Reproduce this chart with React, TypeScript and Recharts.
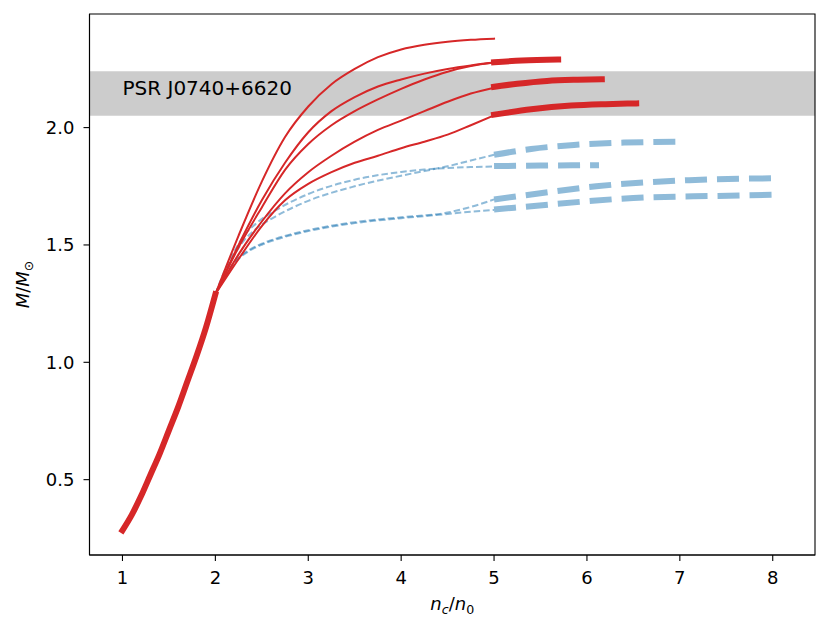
import {
  Label,
  Line,
  LineChart,
  ReferenceArea,
  ReferenceDot,
  XAxis,
  YAxis,
} from "recharts";

const RED = "#d62728";
const BLUE = "#1f77b4";
const FONT = "'DejaVu Sans', sans-serif";

const xTicks = [1, 2, 3, 4, 5, 6, 7, 8];
const yTicks = [0.5, 1.0, 1.5, 2.0];
const xDomain: [number, number] = [0.645, 8.455];
const yDomain: [number, number] = [0.179, 2.484];

// PSR J0740+6620 mass band
const band = [2.05, 2.24];
const pulsarText = "PSR J0740+6620";
const pulsarAt = [1.0, 2.14];

// common low density branch
const baseN = [1.0, 1.1, 1.2, 1.3, 1.4, 1.5, 1.6, 1.7, 1.8, 1.9, 2.0];
const baseM = [0.284, 0.35, 0.43, 0.52, 0.61, 0.71, 0.81, 0.92, 1.03, 1.15, 1.29];

// thin red branches, 2 -> 5 n0
const redN = [2.0, 2.25, 2.5, 2.75, 3.0, 3.25, 3.5, 3.75, 4.0, 4.25, 4.5, 4.75, 5.0];
const red1M = [1.29, 1.54, 1.77, 1.96, 2.09, 2.185, 2.25, 2.3, 2.333, 2.353, 2.366, 2.374, 2.379];
const red2M = [1.29, 1.5, 1.69, 1.85, 1.98, 2.07, 2.13, 2.175, 2.205, 2.23, 2.25, 2.265, 2.277];
const red3M = [1.29, 1.49, 1.66, 1.82, 1.93, 2.01, 2.07, 2.12, 2.165, 2.205, 2.238, 2.262, 2.277];
const red4M = [1.29, 1.46, 1.6, 1.72, 1.81, 1.88, 1.94, 1.99, 2.03, 2.07, 2.11, 2.145, 2.17];
const red5M = [1.29, 1.44, 1.58, 1.69, 1.76, 1.81, 1.85, 1.88, 1.912, 1.94, 1.97, 2.01, 2.052];

// thin blue dashed branches
const blueUpN = [2.0, 2.1, 2.2, 2.3, 2.45, 2.65, 3.0, 3.5, 4.0, 4.25, 4.5, 4.75, 5.0];
const blueAM = [1.29, 1.39, 1.47, 1.535, 1.595, 1.648, 1.717, 1.778, 1.811, 1.821, 1.828, 1.832, 1.834];
const blueBM = [1.29, 1.38, 1.455, 1.515, 1.572, 1.622, 1.688, 1.75, 1.795, 1.815, 1.835, 1.86, 1.884];
const blueLowN = [2.0, 2.1, 2.2, 2.37, 2.5, 2.66, 2.8, 3.0, 3.5, 4.0, 4.5, 4.75, 5.0];
const blueCM = [1.29, 1.365, 1.425, 1.48, 1.505, 1.528, 1.544, 1.563, 1.597, 1.618, 1.638, 1.662, 1.694];
const blueDM = [1.29, 1.36, 1.42, 1.476, 1.501, 1.524, 1.54, 1.559, 1.593, 1.614, 1.632, 1.642, 1.649];

// thick high density continuations
const thickR1N = [5.0, 5.3, 5.69];
const thickR1M = [2.278, 2.286, 2.29];
const thickR2N = [5.0, 5.25, 5.57, 5.9, 6.16];
const thickR2M = [2.174, 2.187, 2.199, 2.204, 2.206];
const thickR3N = [5.0, 5.4, 5.83, 6.2, 6.53];
const thickR3M = [2.055, 2.078, 2.094, 2.1, 2.103];
const thickBAN = [5.0, 5.4, 5.86, 6.4, 6.97];
const thickBAM = [1.884, 1.909, 1.926, 1.936, 1.94];
const thickBBN = [5.0, 5.5, 6.13];
const thickBBM = [1.836, 1.838, 1.84];
const thickBCN = [5.0, 5.4, 6.1, 7.1, 8.0];
const thickBCM = [1.694, 1.715, 1.75, 1.776, 1.784];
const thickBDN = [5.0, 5.4, 6.0, 6.5, 7.4, 8.05];
const thickBDM = [1.651, 1.665, 1.686, 1.7, 1.709, 1.714];

const zip = (n: number[], m: number[]) => n.map((v, i) => ({ n: v, m: m[i] }));

type Style = "thickRed" | "thinRed" | "thinBlue" | "thickBlue";
const curves: { id: string; n: number[]; m: number[]; style: Style }[] = [
  { id: "bA", n: blueUpN, m: blueAM, style: "thinBlue" },
  { id: "bB", n: blueUpN, m: blueBM, style: "thinBlue" },
  { id: "bC", n: blueLowN, m: blueCM, style: "thinBlue" },
  { id: "bD", n: blueLowN, m: blueDM, style: "thinBlue" },
  { id: "tBA", n: thickBAN, m: thickBAM, style: "thickBlue" },
  { id: "tBB", n: thickBBN, m: thickBBM, style: "thickBlue" },
  { id: "tBC", n: thickBCN, m: thickBCM, style: "thickBlue" },
  { id: "tBD", n: thickBDN, m: thickBDM, style: "thickBlue" },
  { id: "base", n: baseN, m: baseM, style: "thickRed" },
  { id: "r1", n: redN, m: red1M, style: "thinRed" },
  { id: "r2", n: redN, m: red2M, style: "thinRed" },
  { id: "r3", n: redN, m: red3M, style: "thinRed" },
  { id: "r4", n: redN, m: red4M, style: "thinRed" },
  { id: "r5", n: redN, m: red5M, style: "thinRed" },
  { id: "tR1", n: thickR1N, m: thickR1M, style: "thickRed" },
  { id: "tR2", n: thickR2N, m: thickR2M, style: "thickRed" },
  { id: "tR3", n: thickR3N, m: thickR3M, style: "thickRed" },
];

const styles: Record<Style, any> = {
  thickRed: { stroke: RED, strokeWidth: 6, strokeLinecap: "square" },
  thinRed: { stroke: RED, strokeWidth: 2, strokeLinecap: "square" },
  thinBlue: { stroke: BLUE, strokeOpacity: 0.5, strokeWidth: 2, strokeDasharray: "6.5 3" },
  thickBlue: { stroke: BLUE, strokeOpacity: 0.5, strokeWidth: 6, strokeDasharray: "22 10" },
};

function XTitle({ viewBox }: any) {
  const { x, y, width } = viewBox;
  return (
    <text x={x + width / 2} y={y + 55} textAnchor="middle" fontSize={18} fontFamily={FONT} fill="#000">
      <tspan fontStyle="italic">n</tspan>
      <tspan fontStyle="italic" fontSize={12.6} dy={3.8}>c</tspan>
      <tspan dy={-3.8}>/</tspan>
      <tspan fontStyle="italic">n</tspan>
      <tspan fontSize={12.6} dy={3.8}>0</tspan>
    </text>
  );
}

function YTitle({ viewBox }: any) {
  const { x, y, height } = viewBox;
  const cx = x + 21;
  const cy = y + height / 2;
  return (
    <text
      x={cx}
      y={cy}
      textAnchor="middle"
      fontSize={18}
      fontFamily={FONT}
      fill="#000"
      transform={`rotate(-90, ${cx}, ${cy})`}
    >
      <tspan fontStyle="italic">M</tspan>
      <tspan>/</tspan>
      <tspan fontStyle="italic">M</tspan>
      <tspan fontSize={12.6} dy={3.8}>⊙</tspan>
    </text>
  );
}

const tickStyle = { fill: "#000", fontSize: 18, fontFamily: FONT };
const axisStroke = { stroke: "#000", strokeWidth: 1.1 };

export default function App() {
  return (
    <LineChart width={815} height={615} margin={{ top: 6, right: 8, bottom: 0, left: 0 }}>
      <XAxis
        dataKey="n"
        type="number"
        domain={xDomain}
        allowDataOverflow
        ticks={xTicks}
        tickSize={6}
        tickMargin={10}
        height={68}
        tick={tickStyle}
        tickLine={axisStroke}
        axisLine={axisStroke}
      >
        <Label content={XTitle} />
      </XAxis>
      <YAxis
        dataKey="m"
        type="number"
        domain={yDomain}
        allowDataOverflow
        ticks={yTicks}
        tickFormatter={(v) => Number(v).toFixed(1)}
        tickSize={6}
        tickMargin={9}
        width={81.5}
        tick={tickStyle}
        tickLine={axisStroke}
        axisLine={axisStroke}
      >
        <Label content={YTitle} />
      </YAxis>
      <ReferenceArea y1={band[0]} y2={band[1]} fill="#808080" fillOpacity={0.4} stroke="none" />
      <ReferenceDot
        x={pulsarAt[0]}
        y={pulsarAt[1]}
        r={0}
        shape={(p: any) => (
          <text x={p.cx} y={p.cy} fontSize={20} fontFamily={FONT} fill="#000">
            {pulsarText}
          </text>
        )}
      />
      {curves.map((c) => (
        <Line
          key={c.id}
          data={zip(c.n, c.m)}
          dataKey="m"
          type="monotone"
          dot={false}
          activeDot={false}
          legendType="none"
          isAnimationActive={false}
          {...styles[c.style]}
        />
      ))}
      <ReferenceArea
        x1={xDomain[0]}
        x2={xDomain[1]}
        y1={yDomain[0]}
        y2={yDomain[1]}
        fill="none"
        stroke="#000"
        strokeWidth={1.1}
      />
    </LineChart>
  );
}
